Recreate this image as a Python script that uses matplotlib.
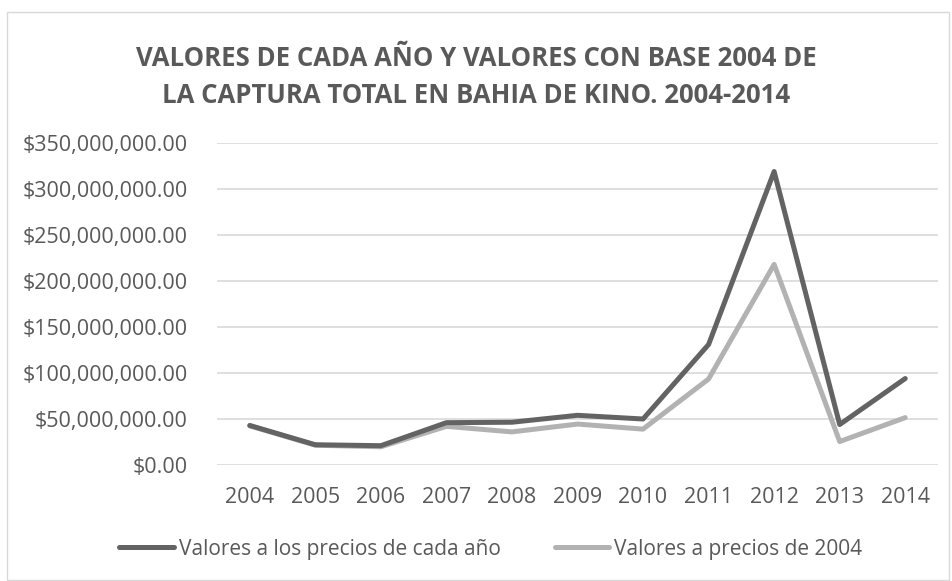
import matplotlib.pyplot as plt
from matplotlib.patches import Rectangle
from matplotlib.ticker import FuncFormatter

# Data (millions of pesos)
years = ['2004', '2005', '2006', '2007', '2008', '2009', '2010', '2011', '2012', '2013', '2014']
valores_cada_ano = [43.0, 22.0, 21.0, 46.0, 46.5, 54.0, 50.0, 131.0, 319.0, 44.0, 94.0]
valores_base_2004 = [42.5, 21.5, 19.8, 42.0, 36.0, 44.5, 39.0, 93.5, 218.0, 25.5, 51.5]
valores_cada_ano = [v * 1e6 for v in valores_cada_ano]
valores_base_2004 = [v * 1e6 for v in valores_base_2004]

plt.rcParams['font.family'] = ['Open Sans', 'DejaVu Sans']
text_color = '#595959'

fig = plt.figure(figsize=(9.53, 5.81), dpi=100)
ax = fig.add_axes([217 / 953, 1 - 465 / 581, 721 / 953, 322 / 581])

x = range(len(years))
ax.plot(x, valores_cada_ano, color='#636363', lw=3.6, solid_capstyle='round',
        solid_joinstyle='round', label='Valores a los precios de cada año', zorder=3)
ax.plot(x, valores_base_2004, color='#B2B2B2', lw=3.6, solid_capstyle='round',
        solid_joinstyle='round', label='Valores a precios de 2004', zorder=2)

ax.set_xlim(-0.5, len(years) - 0.5)
ax.set_ylim(0, 350e6)
ax.set_yticks([i * 50e6 for i in range(8)])
ax.yaxis.set_major_formatter(FuncFormatter(lambda v, p: '${:,.2f}'.format(v)))
ax.set_xticks(list(x))
ax.set_xticklabels(years)
ax.grid(axis='y', color='#D9D9D9', lw=1.2)
ax.set_axisbelow(True)
for s in ax.spines.values():
    s.set_visible(False)
ax.tick_params(length=0, labelsize=15.5, colors=text_color)
ax.tick_params(axis='y', pad=21)
ax.tick_params(axis='x', pad=16)

fig.text(0.5, 1 - 58 / 581, 'VALORES DE CADA AÑO Y VALORES CON BASE 2004 DE',
         ha='center', va='center', fontsize=18.5, fontweight='bold', color=text_color)
fig.text(0.5, 1 - 95 / 581, 'LA CAPTURA TOTAL EN BAHIA DE KINO. 2004-2014',
         ha='center', va='center', fontsize=18.5, fontweight='bold', color=text_color)

fig.legend(loc='center', bbox_to_anchor=(0.515, 1 - 549 / 581), ncol=2, frameon=False,
           fontsize=15, labelcolor=text_color, handlelength=2.6, handletextpad=0.25,
           columnspacing=2.6)

# light chart border
fig.patches.append(Rectangle((7 / 953, 1 / 581), 942 / 953, 568 / 581,
                             transform=fig.transFigure, fill=False,
                             edgecolor='#D9D9D9', lw=1))

fig.savefig('out.png', dpi=100)
